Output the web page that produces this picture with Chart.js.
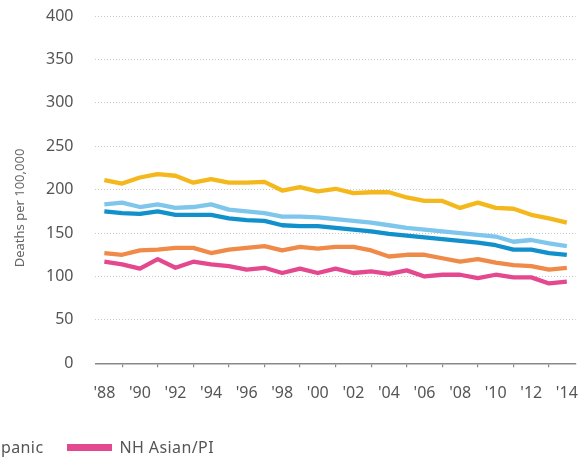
<!DOCTYPE html>
<html>
<head>
<meta charset="utf-8">
<script src="https://cdn.jsdelivr.net/npm/chart.js@4/dist/chart.umd.min.js"></script>
<style>
  html, body { margin: 0; padding: 0; background: #fff; overflow: hidden; }
  #wrap { position: relative; width: 587px; height: 461px; overflow: hidden; }
  #c { position: absolute; left: 0; top: 0; }
  #legend { position: absolute; top: 436px; right: 373px; display: flex; white-space: nowrap;
            font-family: "Noto Sans", sans-serif; font-size: 16px; letter-spacing: 0.4px; color: #555; align-items: center; }
  #legend .item { display: flex; align-items: center; margin-left: 24px; }
  #legend .box { width: 45px; height: 7px; margin-right: 7px; }
</style>
</head>
<body>
<div id="wrap">
  <canvas id="c" width="595" height="461"></canvas>
  <div id="legend"></div>
</div>
<script>
const years = ["'88","'89","'90","'91","'92","'93","'94","'95","'96","'97","'98","'99","'00","'01","'02","'03","'04","'05","'06","'07","'08","'09","'10","'11","'12","'13","'14"];
const yTicks = [0, 50, 100, 150, 200, 250, 300, 350, 400];
const yTitle = "Deaths per 100,000";

const seriesNames = ["All", "NH White", "NH Black", "Hispanic", "NH Asian/PI"];
const seriesColors = ["#1190cc", "#7fc6ec", "#f5b81c", "#f08a48", "#e4498f"];

const allValues = [175, 173, 172, 175, 171, 171, 171, 167, 165, 164, 159, 158, 158, 156, 154, 152, 149, 147, 145, 143, 141, 139, 136, 131, 131, 127, 125];
const whiteValues = [183, 185, 180, 183, 179, 180, 183, 177, 175, 173, 169, 169, 168, 166, 164, 162, 159, 156, 154, 152, 150, 148, 146, 140, 142, 138, 135];
const blackValues = [211, 207, 214, 218, 216, 208, 212, 208, 208, 209, 199, 203, 198, 201, 196, 197, 197, 191, 187, 187, 179, 185, 179, 178, 171, 167, 162];
const hispanicValues = [127, 125, 130, 131, 133, 133, 127, 131, 133, 135, 130, 134, 132, 134, 134, 130, 123, 125, 125, 121, 117, 120, 116, 113, 112, 108, 110];
const asianValues = [117, 114, 109, 120, 110, 117, 114, 112, 108, 110, 104, 109, 104, 109, 104, 106, 103, 107, 100, 102, 102, 98, 102, 99, 99, 92, 94];

const seriesValues = [allValues, whiteValues, blackValues, hispanicValues, asianValues];
const drawOrder = [2, 1, 0, 3, 4];

const FONT = '"Noto Sans", sans-serif';

const datasets = drawOrder.map(i => ({
  label: seriesNames[i],
  data: seriesValues[i],
  borderColor: seriesColors[i],
  backgroundColor: seriesColors[i],
  borderWidth: 4.3,
  pointRadius: 0,
  tension: 0,
  fill: false,
  borderJoinStyle: 'round',
  borderCapStyle: 'butt'
}));

const yTitlePlugin = {
  id: 'yTitle',
  afterDraw(chart) {
    const ctx = chart.ctx;
    ctx.save();
    ctx.translate(20.5, 208);
    ctx.rotate(-Math.PI / 2);
    ctx.font = '13px ' + FONT;
    ctx.fillStyle = '#666';
    ctx.textAlign = 'center';
    ctx.textBaseline = 'middle';
    ctx.fillText(yTitle, 0, 0);
    ctx.restore();
  }
};

new Chart(document.getElementById('c'), {
  type: 'line',
  data: { labels: years, datasets },
  options: {
    responsive: false,
    animation: false,
    devicePixelRatio: 1,
    layout: { padding: { left: 46, right: 12, top: 16, bottom: 40.5 } },
    plugins: { legend: { display: false }, tooltip: { enabled: false } },
    scales: {
      x: {
        type: 'category',
        offset: true,
        grid: {
          display: true,
          drawOnChartArea: false,
          drawTicks: true,
          tickLength: 4,
          lineWidth: 1.2,
          color: ctx => (ctx.index % 2 === 1 ? '#888' : 'rgba(0,0,0,0)')
        },
        border: { display: true, color: '#888', width: 1.5 },
        ticks: {
          autoSkip: false,
          maxRotation: 0,
          padding: 17,
          color: '#555',
          font: { family: FONT, size: 16 },
          callback: (v, i) => (i % 2 === 0 ? years[i] : '')
        }
      },
      y: {
        min: 0,
        max: 400,
        afterBuildTicks: axis => { axis.ticks = yTicks.map(v => ({ value: v })); },
        grid: {
          drawTicks: true,
          tickLength: 22,
          tickColor: 'rgba(0,0,0,0)',
          lineWidth: 1,
          color: ctx => (ctx.tick && ctx.tick.value === 0 ? 'rgba(0,0,0,0)' : '#c8c8c8')
        },
        border: { display: false, dash: [1, 2] },
        ticks: {
          padding: 0,
          color: '#555',
          font: { family: FONT, size: 16 }
        }
      }
    }
  },
  plugins: [yTitlePlugin]
});

const legend = document.getElementById('legend');
seriesNames.forEach((name, i) => {
  const item = document.createElement('div');
  item.className = 'item';
  const box = document.createElement('span');
  box.className = 'box';
  box.style.background = seriesColors[i];
  const txt = document.createElement('span');
  txt.textContent = name;
  item.appendChild(box);
  item.appendChild(txt);
  legend.appendChild(item);
});
</script>
</body>
</html>
